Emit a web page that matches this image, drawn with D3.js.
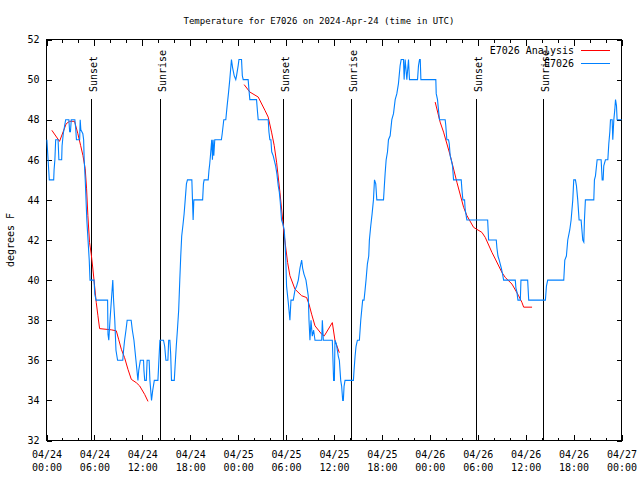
<!DOCTYPE html>
<html><head><meta charset="utf-8">
<script src="https://cdn.jsdelivr.net/npm/d3@7/dist/d3.min.js"></script>
<style>
body{margin:0;background:#fff}
svg{display:block}
text{font-family:"DejaVu Sans Mono","Liberation Mono",monospace;font-size:10px;fill:#000}
</style>
</head><body>
<svg id="chart" width="640" height="480"></svg>
<script>
// ---------------- data ----------------
const chartTitle = "Temperature for E7026 on 2024-Apr-24 (time in UTC)";
const yAxisLabel = "degrees F";
const startTime = "2024-04-24T00:00:00Z";
const endTime = "2024-04-27T00:00:00Z";
const yTicks = [32, 34, 36, 38, 40, 42, 44, 46, 48, 50, 52];
const seriesNames = ["E7026 Analysis", "E7026"];
// hours after startTime
const sunsetHours = [5.52, 29.64, 53.73];
const sunriseHours = [14.21, 38.17, 62.13];

// Analysis series: three separate runs, [hour, degF]
const analysisRun1 = [[0.67,47.47],[1.63,46.92],[2.47,47.8],[2.89,47.92],[3.51,47.92],[3.93,47.3],[4.27,46.72],[4.56,46.22],[4.85,45.55],[5.02,44.55],[5.18,43.22],[5.39,41.88],[5.6,41.3],[5.81,40.55],[6.02,39.72],[6.23,38.88],[6.44,38.22],[6.65,37.58],[8.11,37.52],[8.74,37.47],[9.03,37.05],[9.37,36.55],[9.78,36.13],[10.2,35.55],[10.62,35.05],[11.25,34.88],[11.67,34.72],[12.29,34.3],[12.71,33.95]];
const analysisRun2 = [[24.75,49.75],[25.46,49.38],[26.51,49.13],[27.35,48.47],[27.76,48.13],[28.18,47.38],[28.51,46.72],[28.81,45.88],[29.23,44.38],[29.77,42.22],[30.19,40.88],[30.48,40.22],[31.11,39.55],[31.95,39.22],[32.57,39.13],[32.87,38.8],[33.2,38.3],[33.62,37.72],[34.46,37.3],[34.79,37.22],[35.79,37.88],[36.13,36.97],[36.67,36.38]];
const analysisRun3 = [[48.67,48.88],[49.29,47.88],[49.72,47.38],[50.55,46.22],[51.39,44.88],[52.23,43.63],[52.64,43.22],[53.48,42.63],[54.52,42.38],[54.94,42.13],[55.78,41.38],[56.2,41.05],[57.03,40.38],[57.45,40.13],[58.29,39.8],[59.12,39.22],[59.54,38.88],[59.75,38.65],[60.8,38.65]];

// Observed series, [hour, degF]
const observed = [[0.05,47],[0.2,46],[0.35,45],[0.9,45],[0.95,45.5],[1.05,46],[1.15,47],[1.45,47],[1.55,46],[1.9,46],[1.95,46.7],[2.1,47.3],[2.4,48],[2.8,48],[2.9,47.4],[3.0,47.4],[3.1,48],[3.55,48],[3.65,47.6],[3.75,47],[4.15,47],[4.22,48],[4.3,47.5],[4.55,47.3],[4.65,47],[4.72,46],[4.85,45],[4.95,44],[5.05,43],[5.2,42],[5.35,41],[5.45,40],[5.95,40],[6.05,39.3],[6.2,39],[7.65,39],[7.7,37.3],[7.8,37],[7.95,38],[8.3,40],[8.4,39],[8.55,38],[8.7,36.5],[8.9,36],[9.55,36],[9.65,36.5],[9.78,37],[9.95,37.5],[10.1,38],[10.6,38],[10.75,37.5],[10.95,37],[11.2,36],[11.45,35],[11.55,35.5],[11.75,36],[12.15,36],[12.2,35.5],[12.3,35],[12.5,35],[12.6,36],[12.85,36],[12.95,35],[13.15,34],[13.3,34.5],[13.5,35],[13.95,35],[14.05,35.8],[14.2,37],[14.65,37],[14.8,36.7],[14.95,36],[15.2,36],[15.3,37],[15.45,37],[15.55,36.3],[15.65,35],[16.0,35],[16.1,35.7],[16.25,36.7],[16.39,37.5],[16.55,38.5],[16.69,40],[16.81,41.2],[16.93,42.2],[17.1,42.8],[17.23,43.3],[17.35,43.9],[17.52,44.8],[17.65,45],[18.2,45],[18.28,44],[18.36,43],[18.45,44],[19.55,44],[19.65,44.8],[19.74,45],[20.25,45],[20.35,45.5],[20.44,45.8],[20.57,46.4],[20.69,47],[20.78,46],[20.86,47],[20.95,46.2],[21.07,47],[21.9,47],[22.0,47.3],[22.2,48],[22.45,48],[22.62,48.7],[22.78,49.3],[22.95,50],[23.16,51],[23.3,50.6],[23.5,50.2],[23.7,50],[23.8,50.2],[24.0,50.7],[24.1,51],[24.42,51],[24.52,50.2],[24.63,50],[25.25,50],[25.35,49.5],[25.46,49],[26.3,49],[26.4,48.5],[26.51,48],[27.76,48],[27.85,47.4],[27.97,47],[28.1,47],[28.2,46.4],[28.39,46.2],[28.51,46],[28.69,45.7],[28.85,45.3],[29.02,44.7],[29.15,44.4],[29.27,43.9],[29.43,43],[29.6,42.8],[29.77,42.5],[29.85,42],[29.95,41.2],[30.06,39.7],[30.27,38.9],[30.48,38],[30.61,39],[30.9,39],[31.11,39.5],[31.32,39.7],[31.53,40],[31.74,40.6],[31.95,41],[32.07,40.6],[32.24,40.3],[32.49,40],[32.78,39.2],[32.87,38],[32.99,37],[33.12,38],[33.28,37.2],[33.45,37.5],[33.62,37],[34.46,37],[34.54,38],[34.67,37],[35.79,37],[35.87,36],[35.95,35],[36.05,35],[36.12,37],[36.3,36.8],[36.54,36.2],[36.67,36],[36.84,35],[36.96,34.7],[37.09,34],[37.17,34],[37.26,34.7],[37.38,35],[38.43,35],[38.51,35.5],[38.64,36.2],[38.76,36.7],[38.93,37],[39.18,37],[39.35,38],[39.47,38.5],[39.59,39],[39.76,39],[39.89,39.5],[40.01,40],[40.18,40.8],[40.35,41.2],[40.43,42],[40.6,42.7],[40.77,43.3],[40.94,44],[41.07,45],[41.23,44.8],[41.36,44],[42.2,44],[42.32,44.8],[42.4,45.3],[42.53,46],[42.7,46.4],[42.82,47],[43.03,47.2],[43.24,48],[43.45,48.3],[43.66,49],[43.87,49.3],[44.07,49.8],[44.28,50.7],[44.41,51],[44.7,51],[44.78,50],[44.91,51],[45.12,50],[45.33,51],[45.45,50],[46.46,50],[46.58,50.7],[46.71,51],[46.8,51],[46.88,50],[48.75,50],[48.8,49.3],[48.96,49],[49.08,48.5],[49.21,48],[49.92,48],[50.0,47.7],[50.13,47],[50.34,47],[50.43,46.8],[50.55,46.2],[50.68,46],[50.84,45.7],[50.97,45],[51.93,45],[52.02,44.5],[52.14,44],[52.35,44],[52.43,43.5],[52.64,43],[55.24,43],[55.36,42],[56.32,42],[56.4,41.6],[56.53,41.2],[56.69,41],[56.95,40.6],[57.11,40.3],[57.24,40],[58.7,40],[58.78,39.6],[58.91,39.4],[59.03,39],[59.33,39],[59.41,40],[60.25,40],[60.38,39],[62.47,39],[62.6,39.7],[62.76,40],[64.77,40],[64.9,41],[65.1,41.2],[65.27,42],[65.52,42.5],[65.69,43],[65.9,44],[66.02,45],[66.23,45],[66.36,44.7],[66.52,44],[66.69,43],[66.94,43],[67.15,42],[67.28,41.9],[67.36,43],[67.48,44],[68.53,44],[68.61,45],[68.74,45.2],[68.95,46],[69.45,46],[69.58,45],[69.7,45],[69.78,45.7],[69.99,46],[70.29,46],[70.41,46.8],[70.54,47.4],[70.62,48],[70.83,48],[70.91,47],[71.04,48],[71.16,48.5],[71.25,49],[71.37,48.7],[71.45,48],[72,48]];

// ---------------- chart ----------------
const plot = {left: 46.5, right: 621.5, top: 39.5, bottom: 440.5};
const t0 = new Date(startTime);
const toDate = h => new Date(t0.getTime() + h * 3600e3);

const svg = d3.select("#chart");
const x = d3.scaleUtc().domain([new Date(startTime), new Date(endTime)]).range([plot.left, plot.right]);
const y = d3.scaleLinear().domain([d3.min(yTicks), d3.max(yTicks)]).range([plot.bottom, plot.top]);

const majorT = x.ticks(d3.utcHour.every(6));
const minorT = x.ticks(d3.utcHour.every(2)).filter(d => d.getUTCHours() % 6 !== 0);

// title & y label
svg.append("text").attr("x", 319).attr("y", 23.5).attr("text-anchor", "middle").style("font-size", "9px").text(chartTitle);
svg.append("text").attr("transform", "translate(13.5,240) rotate(-90)").attr("text-anchor", "middle").text(yAxisLabel);

// axes
function styleAxis(g) {
  g.select(".domain").remove();
  g.selectAll("line").attr("stroke", "#000").attr("shape-rendering", "crispEdges");
  g.selectAll("text").style("font-family", '"DejaVu Sans Mono",monospace').style("font-size", "10px").attr("fill", "#000");
}
const fmtDay = d3.utcFormat("%m/%d"), fmtTime = d3.utcFormat("%H:%M");
const xAxisG = svg.append("g").attr("transform", `translate(0,${plot.bottom})`)
  .call(d3.axisBottom(x).tickValues(majorT).tickSizeInner(-6).tickSizeOuter(0).tickPadding(10).tickFormat(d => fmtDay(d)));
styleAxis(xAxisG);
xAxisG.selectAll(".tick text").each(function(d) {
  const t = d3.select(this);
  t.text(null).attr("y", 0).attr("dy", null);
  t.append("tspan").attr("x", 0).attr("y", 17).text(fmtDay(d));
  t.append("tspan").attr("x", 0).attr("y", 30).text(fmtTime(d));
});
styleAxis(svg.append("g").attr("transform", `translate(0,${plot.bottom})`)
  .call(d3.axisBottom(x).tickValues(minorT).tickSizeInner(-3).tickSizeOuter(0).tickFormat("")));
styleAxis(svg.append("g").attr("transform", `translate(0,${plot.top})`)
  .call(d3.axisTop(x).tickValues(majorT).tickSizeInner(-6).tickSizeOuter(0).tickFormat("")));
styleAxis(svg.append("g").attr("transform", `translate(0,${plot.top})`)
  .call(d3.axisTop(x).tickValues(minorT).tickSizeInner(-3).tickSizeOuter(0).tickFormat("")));
styleAxis(svg.append("g").attr("transform", `translate(${plot.left},0)`)
  .call(d3.axisLeft(y).tickValues(yTicks).tickSizeInner(-5).tickSizeOuter(0).tickPadding(7).tickFormat(d3.format("d"))));
styleAxis(svg.append("g").attr("transform", `translate(${plot.right},0)`)
  .call(d3.axisRight(y).tickValues(yTicks).tickSizeInner(-5).tickSizeOuter(0).tickFormat("")));

// border
svg.append("rect").attr("x", plot.left).attr("y", plot.top)
  .attr("width", plot.right - plot.left).attr("height", plot.bottom - plot.top)
  .attr("fill", "none").attr("stroke", "#000").attr("shape-rendering", "crispEdges");

// sunrise / sunset markers
const markers = sunsetHours.map(h => ({h, label: "Sunset"}))
  .concat(sunriseHours.map(h => ({h, label: "Sunrise"})));
markers.forEach(m => {
  const xp = Math.round(x(toDate(m.h))) + 0.5;
  svg.append("line").attr("x1", xp).attr("x2", xp).attr("y1", 99).attr("y2", plot.bottom)
    .attr("stroke", "#000").attr("shape-rendering", "crispEdges");
  svg.append("text").attr("transform", `translate(${xp + 5},92) rotate(-90)`).text(m.label);
});

// series
const line = d3.line().x(d => x(toDate(d[0]))).y(d => y(d[1]));
const red = "#ff0000", blue = "#0080ff";
[analysisRun1, analysisRun2, analysisRun3].forEach(run => {
  svg.append("path").datum(run).attr("d", line).attr("fill", "none").attr("stroke", red).attr("stroke-width", 1);
});
svg.append("path").datum(observed).attr("d", line).attr("fill", "none").attr("stroke", blue).attr("stroke-width", 1.1);

// legend
const legend = [{name: seriesNames[0], color: red, y: 50}, {name: seriesNames[1], color: blue, y: 63}];
legend.forEach(l => {
  svg.append("text").attr("x", 574).attr("y", l.y + 3.5).attr("text-anchor", "end").text(l.name);
  svg.append("line").attr("x1", 581).attr("x2", 610).attr("y1", l.y + 0.5).attr("y2", l.y + 0.5)
    .attr("stroke", l.color).attr("shape-rendering", "crispEdges");
});
</script>
</body></html>
